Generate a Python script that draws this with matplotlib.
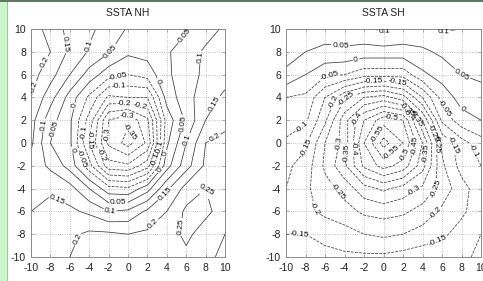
import matplotlib

matplotlib.use("Agg")
import matplotlib.pyplot as plt  # noqa: E402
from matplotlib.patches import Rectangle  # noqa: E402

# grid the fields were read on (rows go from y=10 down to y=-10)
x_coords = [-10, -8, -6, -4, -2, 0, 2, 4, 6, 8, 10]
y_coords = [10, 8, 6, 4, 2, 0, -2, -4, -6, -8, -10]
ticks = [-10, -8, -6, -4, -2, 0, 2, 4, 6, 8, 10]

nh_field = [
    [0.24, 0.17, 0.14, 0.11, 0.08, 0.045, 0.03, 0.03, 0.045, 0.075, 0.11],
    [0.24, 0.20, 0.14, 0.095, 0.055, 0.01, 0.02, 0.045, 0.07, 0.11, 0.12],
    [0.22, 0.17, 0.10, 0.03, -0.03, -0.05, -0.03, 0.04, 0.08, 0.11, 0.13],
    [0.20, 0.12, 0.03, -0.06, -0.16, -0.15, -0.15, 0.02, 0.08, 0.13, 0.16],
    [0.17, 0.07, 0.01, -0.12, -0.30, -0.34, -0.26, -0.03, 0.06, 0.15, 0.18],
    [0.16, 0.05, 0.01, -0.15, -0.31, -0.37, -0.29, -0.01, 0.10, 0.20, 0.22],
    [0.13, 0.09, 0.03, -0.08, -0.23, -0.24, -0.17, 0.03, 0.13, 0.21, 0.24],
    [0.12, 0.14, 0.12, 0.05, -0.03, -0.04, 0.03, 0.14, 0.22, 0.25, 0.24],
    [0.15, 0.17, 0.16, 0.14, 0.10, 0.11, 0.16, 0.20, 0.26, 0.26, 0.23],
    [0.17, 0.18, 0.19, 0.21, 0.21, 0.20, 0.21, 0.23, 0.26, 0.23, 0.20],
    [0.17, 0.18, 0.20, 0.22, 0.22, 0.21, 0.21, 0.22, 0.24, 0.21, 0.19],
]
nh_levels = [-0.35, -0.3, -0.25, -0.2, -0.15, -0.1, -0.05,
             0, 0.05, 0.1, 0.15, 0.2, 0.25]
# where the contour labels sit in the reference
nh_label_xy = [
    (-7, 8.6), (-4.1, 8.5), (-1.6, 7.9), (-9.1, 7.3), (-9.4, 4.8), (6.4, 9),
    (7.6, 7.5), (-1.1, 6), (-1, 5.4), (2.8, 5.3), (-5.7, 3.3), (9.5, 3.2),
    (-0.4, 3.2), (1.2, 2.9), (-0.1, 2.4), (5.6, 1.7), (-9, 1.6), (-8.2, 1.4),
    (-4.4, 0.9), (-4.1, 0.3), (-2.2, 0.7), (0.7, 1.1), (3.3, -0.4),
    (3.8, -0.9), (3, -1.5), (6.1, 0.3), (8.5, 1.1), (-5.7, -0.6),
    (-4.6, -1.3), (-2.6, -1), (3.3, -2.4), (8.1, -4.1), (-7, -4.4),
    (3.6, -4.3), (-1, -5.2), (-1.9, -5.7), (2.6, -7.1), (5.6, -7.4),
    (-5.8, -8.2),
]

sh_field = [
    [0.09, 0.08, 0.07, 0.08, 0.09, 0.11, 0.09, 0.09, 0.105, 0.10, 0.10],
    [0.07, 0.05, 0.04, 0.04, 0.03, 0.03, 0.03, 0.04, 0.06, 0.08, 0.08],
    [0.04, 0.00, -0.04, -0.05, -0.08, -0.08, -0.08, -0.01, 0.02, 0.05, 0.06],
    [-0.05, -0.06, -0.15, -0.24, -0.30, -0.32, -0.27, -0.15, -0.03, 0.02, 0.03],
    [-0.07, -0.09, -0.19, -0.33, -0.45, -0.53, -0.50, -0.30, -0.09, -0.02, 0.00],
    [-0.11, -0.14, -0.25, -0.32, -0.50, -0.62, -0.55, -0.40, -0.19, -0.12, -0.07],
    [-0.14, -0.17, -0.26, -0.34, -0.46, -0.52, -0.48, -0.37, -0.21, -0.13, -0.10],
    [-0.15, -0.19, -0.23, -0.27, -0.33, -0.36, -0.33, -0.29, -0.23, -0.17, -0.12],
    [-0.16, -0.19, -0.21, -0.23, -0.26, -0.27, -0.26, -0.23, -0.19, -0.16, -0.12],
    [-0.15, -0.15, -0.17, -0.18, -0.20, -0.21, -0.20, -0.18, -0.16, -0.13, -0.10],
    [-0.12, -0.13, -0.13, -0.14, -0.14, -0.14, -0.13, -0.12, -0.12, -0.11, -0.09],
]
sh_levels = [-0.6, -0.55, -0.5, -0.45, -0.4, -0.35, -0.3, -0.25, -0.2,
             -0.15, -0.1, -0.05, 0, 0.05, 0.1]
sh_label_xy = [
    (0.1, 9.7), (6.2, 9.7), (-4.4, 8.6), (-2.9, 7.7), (-5.6, 6.0), (-1, 5.4),
    (1.4, 5.4), (7.9, 5.8), (-4.9, 3.5), (-3.7, 3.8), (2.5, 3.0), (2.8, 2.6),
    (3.3, 2.2), (6.2, 3.0), (8.1, 3.0), (-2.65, 2.0), (0.75, 2.3),
    (-8.3, 1.4), (-0.3, 0.6), (5, 0.8), (5.4, 0.2), (-8.3, -0.3),
    (-4.5, -0.1), (-3.7, -0.9), (-3.4, -0.5), (3.2, -0.2), (6.9, -0.2),
    (0.9, -1), (2.1, -1), (4.5, -0.9), (8.6, -0.9), (-4.5, -4.1), (3, -4.1),
    (5.5, -4.1), (-7.6, -5.9), (5.3, -6.1), (-8.6, -8.4), (5.5, -8.3),
]

plt.rcParams.update({
    "font.family": "Liberation Sans",
    "font.size": 7.5,
    "axes.unicode_minus": False,
    "axes.edgecolor": "#8a8a8a",
    "axes.linewidth": 0.7,
    "xtick.color": "#8a8a8a",
    "ytick.color": "#8a8a8a",
    "xtick.labelcolor": "#222222",
    "ytick.labelcolor": "#222222",
})


def _fmt(v):
    return f"{v:g}"


def _panel(ax, field, levels, label_xy, title):
    cs = ax.contour(x_coords, y_coords, field, levels=levels, colors="#3a3a3a",
                    linewidths=0.55, negative_linestyles="dashed")
    ax.clabel(cs, fmt=_fmt, fontsize=6, inline=True, inline_spacing=1,
              manual=label_xy, colors="#111111")
    ax.set_xlim(-10, 10)
    ax.set_ylim(-10, 10)
    ax.set_xticks(ticks)
    ax.set_yticks(ticks)
    ax.tick_params(direction="in", length=2.5, width=0.5, top=True, right=True)
    ax.tick_params(axis="x", pad=4.5)
    ax.tick_params(axis="y", pad=3.5)
    ax.grid(True, ls=":", lw=0.6, color="#b0b0b0")
    ax.set_title(title, fontsize=7.5, pad=9, color="#222222")


fig = plt.figure(figsize=(4.83, 2.81), dpi=100)
fig.patches.append(Rectangle((0, 0), 7 / 483, 1, transform=fig.transFigure,
                             facecolor="#ccf7cc", edgecolor="none", zorder=0))
fig.patches.append(Rectangle((7 / 483, 0), 1 / 483, 1, transform=fig.transFigure,
                             facecolor="#9cc89c", edgecolor="none", zorder=0))
fig.patches.append(Rectangle((0, 1 - 2 / 281), 1, 2 / 281, transform=fig.transFigure,
                             facecolor="#5e7a60", edgecolor="none", zorder=0))

ax1 = fig.add_axes([31 / 483, 24 / 281, 194 / 483, 228 / 281])
ax2 = fig.add_axes([286 / 483, 24 / 281, 195 / 483, 228 / 281])
_panel(ax1, nh_field, nh_levels, nh_label_xy, "SSTA NH")
_panel(ax2, sh_field, sh_levels, sh_label_xy, "SSTA SH")

fig.savefig("out.png", dpi=100)
